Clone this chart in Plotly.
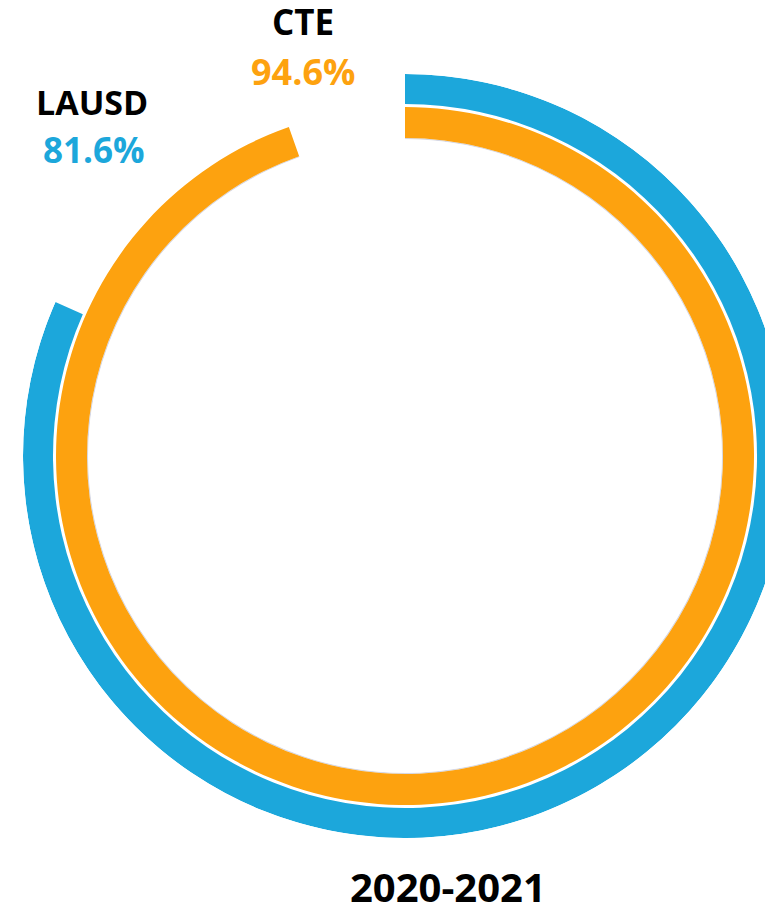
import plotly.graph_objects as go

# Data
groups = ["CTE", "LAUSD"]
values = [94.6, 81.6]          # percent
colors = ["#FDA20F", "#1CA7DB"]
year_label = "2020-2021"

# page body has an 8px default margin; figure is drawn a bit wider so the ring clips at the right
OFF = 8
W, H = 800, 908

# ring geometry (radial axis units)
ring_base = [0, 34]
ring_len = [31, 30]

fig = go.Figure()
# faint inner shadow of the CTE ring
fig.add_trace(go.Barpolar(
    r=[1.2], base=[-1.2], theta=[values[0] / 100 * 360 / 2], width=[values[0] / 100 * 360],
    marker=dict(color="#d6d8e4", line=dict(width=0)), showlegend=False, hoverinfo="skip",
))
for g, v, c, b, L in zip(groups, values, colors, ring_base, ring_len):
    ang = v / 100 * 360
    fig.add_trace(go.Barpolar(
        r=[L], base=[b], theta=[ang / 2], width=[ang],
        marker=dict(color=c, line=dict(width=0)),
        name=g, showlegend=False, hoverinfo="skip",
    ))

cx, cy, R = 405 - OFF, 456 - OFF, 382
fig.update_layout(
    width=W, height=H,
    margin=dict(l=0, r=0, t=0, b=0),
    paper_bgcolor="white", plot_bgcolor="white",
    polar=dict(
        domain=dict(x=[(cx - R) / W, (cx + R) / W], y=[(H - cy - R) / H, (H - cy + R) / H]),
        hole=316.8 / 382,
        bgcolor="white",
        radialaxis=dict(range=[-1.2, 64], visible=False, showgrid=False),
        angularaxis=dict(rotation=90, direction="clockwise", visible=False, showgrid=False),
        bargap=0,
    ),
    font=dict(family="Open Sans", color="black"),
)

def ann(text, x, y, size, color):
    fig.add_annotation(text=text, x=(x - OFF) / W, y=1 - (y - OFF) / H, xref="paper", yref="paper",
                       showarrow=False, xanchor="center", yanchor="middle",
                       font=dict(family="Open Sans", size=size, color=color, weight="bold"))

ann(groups[0], 303, 21, 35, "black")
ann(f"{values[0]:.1f}%", 303, 72, 36, colors[0])
ann(groups[1], 92, 102, 34, "black")
ann(f"{values[1]:.1f}%", 94, 149, 35, colors[1])
ann(year_label, 448, 886, 40, "black")

fig.write_html("out.html")
